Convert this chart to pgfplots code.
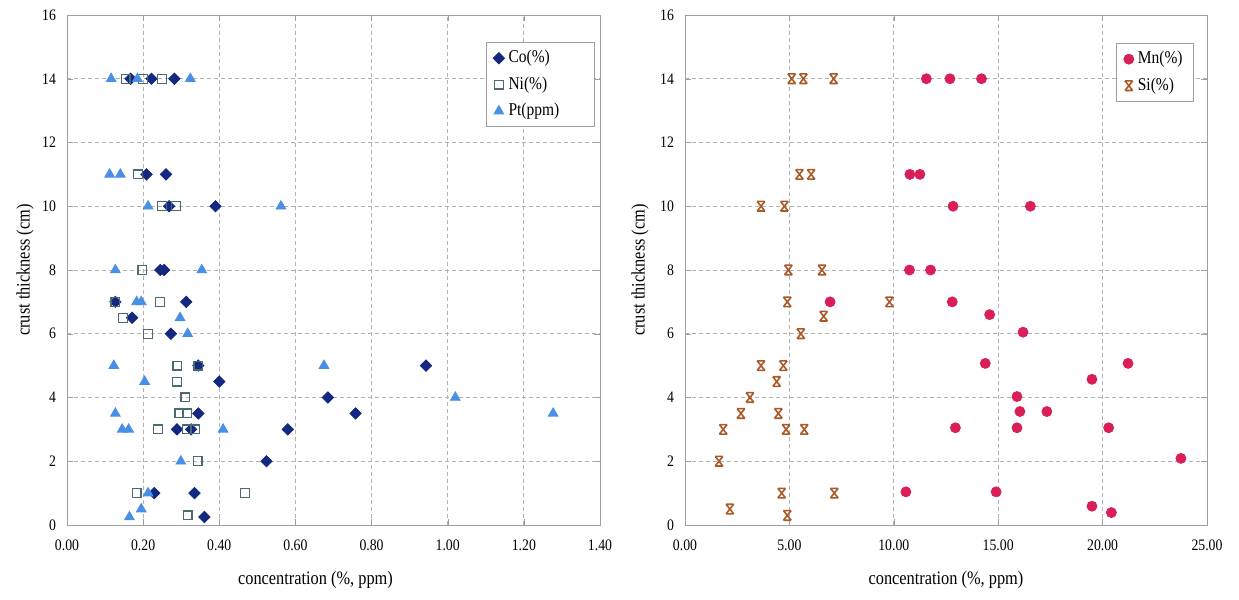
\documentclass[border=0pt]{standalone}
\usepackage{fontspec}
\setmainfont{Liberation Serif}[FakeStretch=0.86]
\usepackage{pgfplots}
\pgfplotsset{compat=1.18}
\definecolor{cocol}{HTML}{13287E}
\definecolor{nicol}{HTML}{4A6C70}
\definecolor{ptcol}{HTML}{4A8FE6}
\definecolor{mncol}{HTML}{DA1E57}
\definecolor{sicol}{HTML}{A85A28}
\pgfdeclareplotmark{xstar}{%
  \pgfpathmoveto{\pgfqpoint{-0.8\pgfplotmarksize}{-\pgfplotmarksize}}%
  \pgfpathlineto{\pgfqpoint{0.8\pgfplotmarksize}{\pgfplotmarksize}}%
  \pgfpathmoveto{\pgfqpoint{-0.8\pgfplotmarksize}{\pgfplotmarksize}}%
  \pgfpathlineto{\pgfqpoint{0.8\pgfplotmarksize}{-\pgfplotmarksize}}%
  \pgfpathmoveto{\pgfqpoint{-0.8\pgfplotmarksize}{\pgfplotmarksize}}%
  \pgfpathlineto{\pgfqpoint{0.8\pgfplotmarksize}{\pgfplotmarksize}}%
  \pgfpathmoveto{\pgfqpoint{-0.8\pgfplotmarksize}{-\pgfplotmarksize}}%
  \pgfpathlineto{\pgfqpoint{0.8\pgfplotmarksize}{-\pgfplotmarksize}}%
  \pgfusepathqstroke}
\pgfplotsset{myax/.style={
  scale only axis, height=255pt,
  ymin=0, ymax=16, ytick distance=2,
  grid=major,
  major grid style={dash pattern=on 2pt off 1.5pt, gray!60, line width=0.4pt},
  axis line style={gray!75},
  tick style={gray!75},
  tick align=inside, major tick length=3pt,
  ticklabel style={font=\fontsize{8}{9}\selectfont},
  /pgf/number format/assume math mode=true,
  xticklabel style={yshift=-4pt},
  yticklabel style={xshift=-2pt},
  label style={font=\fontsize{9.5}{11}\selectfont},
  ylabel={crust thickness (cm)},
  xlabel={concentration (\%, ppm)},
  xlabel style={at={(axis description cs:0.5,0)}, anchor=center, yshift=-27.5pt},
  legend cell align=left,
  legend style={draw=gray!75, font=\fontsize{9}{11}\selectfont, row sep=1.5pt, inner xsep=3.5pt, inner ysep=2pt},
}}
\begin{document}
\begin{tikzpicture}
\path[use as bounding box] (-33.5pt,-37.5pt) rectangle (586pt,262.5pt);
\begin{axis}[myax, width=266.5pt, at={(0,0)}, anchor=south west,
  xmin=0, xmax=1.4, xtick distance=0.2,
  xticklabel style={/pgf/number format/.cd, fixed, fixed zerofill, precision=2},
  ylabel style={at={(axis description cs:0,0.5)}, anchor=center, rotate=0, yshift=21pt},
  xlabel style={xshift=-9pt},
  legend style={at={(0.99,0.947)}, anchor=north east}]
\addplot[only marks, mark=square*, mark size=2pt, color=cocol, mark options={rotate=45}] coordinates {
(0.167,14)(0.222,14)(0.282,14)
(0.209,11)(0.26,11)
(0.268,10)(0.39,10)
(0.245,8)(0.255,8)
(0.127,7)(0.313,7)
(0.171,6.5)
(0.273,6)
(0.345,5)(0.943,5)
(0.40,4.5)
(0.685,4)
(0.345,3.5)(0.758,3.5)
(0.289,3)(0.326,3)(0.58,3)
(0.524,2)
(0.229,1)(0.335,1)
(0.361,0.25)
};
\addlegendentry{Co(\%)}
\addplot[only marks, mark=square, mark size=2.2pt, color=nicol, mark options={fill=white, line width=0.6pt}] coordinates {
(0.154,14)(0.20,14)(0.25,14)
(0.187,11)
(0.25,10)(0.286,10)
(0.198,8)
(0.127,7)(0.244,7)
(0.147,6.5)
(0.213,6)
(0.29,5)(0.345,5)
(0.289,4.5)
(0.311,4)
(0.295,3.5)(0.315,3.5)
(0.239,3)(0.315,3)(0.337,3)
(0.343,2)
(0.183,1)(0.467,1)
(0.317,0.3)
};
\addlegendentry{Ni(\%)}
\addplot[only marks, mark=triangle*, mark size=2.8pt, color=ptcol] coordinates {
(0.116,14)(0.185,14)(0.324,14)
(0.112,11)(0.14,11)
(0.213,10)(0.562,10)
(0.127,8)(0.354,8)
(0.183,7)(0.195,7)
(0.297,6.5)
(0.317,6)
(0.123,5)(0.675,5)
(0.204,4.5)
(1.02,4)
(0.127,3.5)(1.277,3.5)
(0.145,3)(0.162,3)(0.41,3)
(0.299,2)
(0.213,1)
(0.195,0.5)
(0.164,0.25)
};
\addlegendentry{Pt(ppm)\hspace*{12pt}}
\end{axis}
\begin{axis}[myax, width=261pt, at={(309pt,0)}, anchor=south west,
  xmin=0, xmax=25, xtick distance=5,
  xticklabel style={/pgf/number format/.cd, fixed, fixed zerofill, precision=2},
  ylabel style={at={(axis description cs:0,0.5)}, anchor=center, yshift=22.5pt},
  legend style={at={(0.975,0.945)}, anchor=north east}]
\addplot[only marks, mark=*, mark size=2.5pt, color=mncol] coordinates {
(11.56,14)(12.69,14)(14.20,14)
(10.77,11)(11.25,11)
(12.84,10)(16.54,10)
(10.75,8)(11.76,8)
(6.95,7)(12.8,7)
(14.59,6.6)
(16.19,6.05)
(14.38,5.07)(21.22,5.07)
(19.49,4.57)
(15.9,4.03)
(16.04,3.56)(17.33,3.56)
(12.95,3.05)(15.9,3.05)(20.29,3.05)
(23.75,2.09)
(10.58,1.04)(14.9,1.04)
(19.49,0.59)
(20.42,0.39)
};
\addlegendentry{Mn(\%)}
\addplot[only marks, mark=xstar, mark size=2.4pt, color=sicol, mark options={line width=0.8pt}] coordinates {
(5.11,14)(5.67,14)(7.12,14)
(5.48,11)(6.04,11)
(3.64,10)(4.76,10)
(4.95,8)(6.56,8)
(4.9,7)(9.79,7)
(6.64,6.55)
(5.55,6)
(3.64,5)(4.71,5)
(4.39,4.5)
(3.11,4)
(2.68,3.5)(4.47,3.5)
(1.83,3)(4.84,3)(5.71,3)
(1.63,2)
(4.63,1)(7.15,1)
(2.15,0.5)
(4.9,0.3)
};
\addlegendentry{Si(\%)}
\end{axis}
\end{tikzpicture}
\end{document}
